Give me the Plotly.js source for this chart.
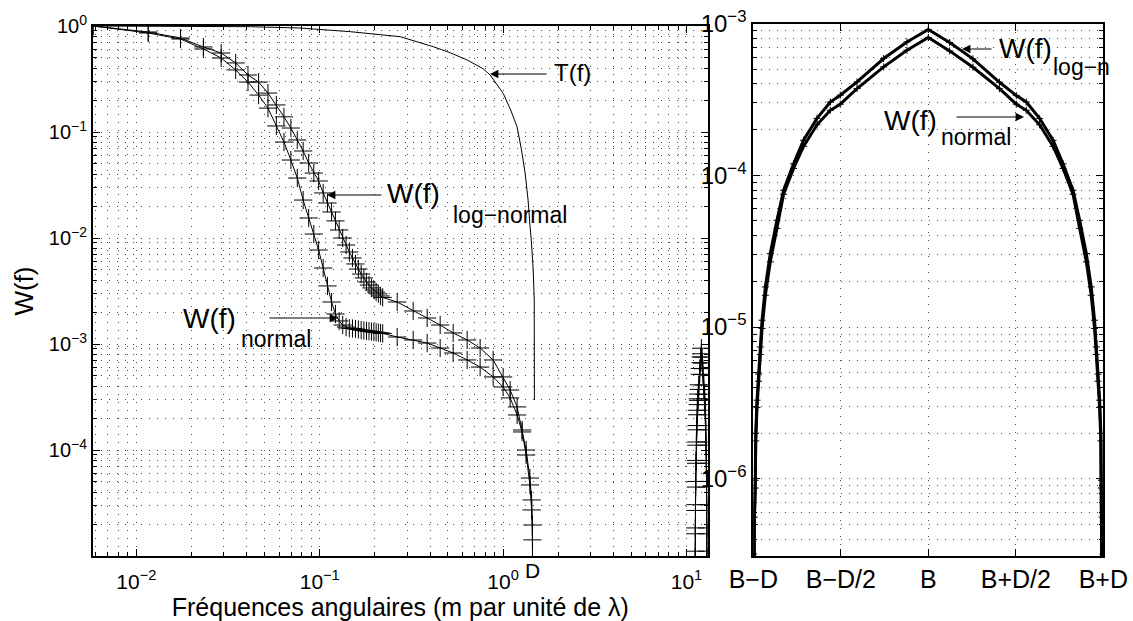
<!DOCTYPE html>
<html><head><meta charset="utf-8">
<script src="https://cdn.plot.ly/plotly-3.0.1.min.js"></script>
<style>html,body{margin:0;padding:0;background:#fff}</style>
</head><body><div id="chart" style="width:1133px;height:621px"></div>
<script>
// ---------- data ----------
const freq = [0.0058, 0.0116, 0.0174, 0.0232, 0.029, 0.0348, 0.0406, 0.0464, 0.0522, 0.058,
  0.0638, 0.0696, 0.0754, 0.0812, 0.087, 0.0928, 0.0986, 0.1044, 0.1102, 0.116,
  0.1218, 0.1276, 0.1334, 0.1392, 0.145, 0.1508, 0.1566, 0.1624, 0.1682, 0.174,
  0.1798, 0.1856, 0.1914, 0.1972, 0.203, 0.2088, 0.2146, 0.2204,
  0.2644, 0.3232, 0.3853, 0.4536, 0.534, 0.6365, 0.7493, 0.882, 1.0, 1.092,
  1.192, 1.269, 1.335, 1.40, 1.43, 1.445, 1.45];
const wLogNormal = [1.0, 0.878, 0.770, 0.634, 0.556, 0.448, 0.345, 0.296, 0.233, 0.180,
  0.139, 0.109, 0.0841, 0.0662, 0.0510, 0.0410, 0.0345, 0.0266, 0.0214, 0.0176,
  0.0145, 0.0119, 0.0100, 0.00859, 0.00738, 0.00648, 0.00569, 0.00510, 0.00457, 0.00420,
  0.00385, 0.00360, 0.00338, 0.00323, 0.00309, 0.00297, 0.00284, 0.00275,
  0.00249, 0.002049, 0.001758, 0.001511, 0.001271, 0.001091, 0.000917, 0.000707, 0.000489, 0.000368,
  0.000255, 0.0001545, 0.0001, 5.44e-5, 3.38e-5, 1.96e-5, 1e-6];
const wNormal = [1.0, 0.859, 0.754, 0.607, 0.499, 0.385, 0.296, 0.223, 0.168, 0.114,
  0.0804, 0.0544, 0.0368, 0.0228, 0.01545, 0.0109, 0.0077, 0.00521, 0.00353, 0.00249,
  0.00192, 0.00165, 0.00151, 0.001445, 0.00141, 0.00140, 0.001386, 0.00137, 0.001355, 0.00134,
  0.001327, 0.00132, 0.00131, 0.001298, 0.00129, 0.00128, 0.00127, 0.00126,
  0.001164, 0.001091, 0.001021, 0.000917, 0.000822, 0.000707, 0.000606, 0.000489, 0.000393, 0.00031,
  0.000214, 0.000148, 8.97e-5, 4.68e-5, 2.72e-5, 1.42e-5, 1e-6];
const freqT = [0.0058, 0.0418, 0.0783, 0.1467, 0.2747, 0.4154, 0.514, 0.6365, 0.778, 0.85,
  1.0, 1.1, 1.192, 1.26, 1.318, 1.368, 1.40, 1.424, 1.459, 1.478, 1.481];
const transferT = [1.0, 0.985, 0.957, 0.884, 0.793, 0.638, 0.56, 0.478, 0.395, 0.345,
  0.232, 0.161, 0.1115, 0.0677, 0.041, 0.0228, 0.01327, 0.00957, 0.00499, 0.0026, 0.000296];
const dFreq = 1.44;

// right panel: frequency offset around B, in units of D
const uOffset = [-1, -0.998, -0.994, -0.989, -0.986, -0.979, -0.970, -0.960, -0.950, -0.931,
  -0.903, -0.865, -0.827, -0.770, -0.713, -0.636, -0.560, -0.503, -0.407, -0.255, -0.122, 0,
  0.122, 0.255, 0.407, 0.503, 0.560, 0.636, 0.713, 0.770, 0.827, 0.865, 0.903, 0.931, 0.950,
  0.960, 0.970, 0.979, 0.986, 0.989, 0.994, 0.998, 1];
const wRightLogN = [1e-8, 3.2e-7, 5.6e-7, 9.8e-7, 2.0e-6, 3.3e-6, 4.9e-6, 7.4e-6, 1.11e-5, 1.84e-5,
  3.05e-5, 5.05e-5, 7.97e-5, 1.19e-4, 1.70e-4, 2.37e-4, 3.04e-4, 3.37e-4, 4.12e-4, 5.88e-4, 7.56e-4, 9.13e-4,
  7.5e-4, 5.85e-4, 4.1e-4, 3.35e-4, 3.04e-4, 2.37e-4, 1.70e-4, 1.19e-4, 7.97e-5, 5.05e-5, 3.05e-5, 1.84e-5, 1.11e-5,
  7.4e-6, 4.9e-6, 3.3e-6, 2.0e-6, 9.8e-7, 5.6e-7, 3.2e-7, 1e-8];
const wRightNormal = [1e-8, 2.9e-7, 5.0e-7, 8.7e-7, 1.78e-6, 2.95e-6, 4.4e-6, 6.6e-6, 9.8e-6, 1.62e-5,
  2.69e-5, 4.47e-5, 7.5e-5, 1.11e-4, 1.55e-4, 2.15e-4, 2.68e-4, 2.94e-4, 3.73e-4, 5.18e-4, 6.67e-4, 8.09e-4,
  6.6e-4, 5.15e-4, 3.72e-4, 2.94e-4, 2.68e-4, 2.15e-4, 1.55e-4, 1.11e-4, 7.5e-5, 4.47e-5, 2.69e-5, 1.62e-5, 9.8e-6,
  6.6e-6, 4.4e-6, 2.95e-6, 1.78e-6, 8.7e-7, 5.0e-7, 2.9e-7, 1e-8];
// the same right-panel curves also appear on the left axes around f = B
const bCentre = 12.05, dHalf = 0.95;

// ticks
const leftXTickVals = [0.01, 0.1, 1, 10];
const leftXTickText = ['10<sup>−2</sup>', '10<sup>−1</sup>', '10<sup>0</sup>', '10<sup>1</sup>'];
const leftYTickVals = [1e-4, 1e-3, 1e-2, 1e-1, 1];
const leftYTickText = ['10<sup>−4</sup>', '10<sup>−3</sup>', '10<sup>−2</sup>', '10<sup>−1</sup>', '10<sup>0</sup>'];
const rightXTickVals = [-1, -0.5, 0, 0.5, 1];
const rightXTickText = ['B−D', 'B−D/2', 'B', 'B+D/2', 'B+D'];
const rightYTickVals = [1e-6, 1e-5, 1e-4, 1e-3];
const rightYTickText = ['10<sup>−6</sup>', '10<sup>−5</sup>', '10<sup>−4</sup>', '10<sup>−3</sup>'];

// ---------- helpers ----------
function minorLog(kmin, kmax) {
  const v = [];
  for (let k = kmin; k <= kmax; k++) for (let m = 2; m <= 9; m++) v.push(m * Math.pow(10, k));
  return v;
}
const W = 1133, H = 621;
const px = x => x / W, py = y => 1 - y / H;
const FONT = 'Liberation Sans, Arial, Helvetica, sans-serif';
const GRID = {gridcolor: '#4a4a4a', gridwidth: 1, griddash: '1px,7px'};

const plusMarker = (size) => ({symbol: 'cross-thin-open', size: size, color: 'black', line: {color: 'black', width: 1}});

const artX = uOffset.map(u => bCentre + u * dHalf);

const traces = [
  {x: freqT, y: transferT, type: 'scatter', mode: 'lines', line: {color: 'black', width: 1}, xaxis: 'x', yaxis: 'y', name: 'T(f)'},
  {x: freq, y: wLogNormal, type: 'scatter', mode: 'lines+markers', line: {color: 'black', width: 1}, marker: plusMarker(13), xaxis: 'x', yaxis: 'y', name: 'W(f) log-normal'},
  {x: freq, y: wNormal, type: 'scatter', mode: 'lines+markers', line: {color: 'black', width: 1}, marker: plusMarker(13), xaxis: 'x', yaxis: 'y', name: 'W(f) normal'},
  {x: artX, y: wRightLogN, type: 'scatter', mode: 'lines+markers', line: {color: 'black', width: 1}, marker: plusMarker(13), xaxis: 'x', yaxis: 'y', name: 'W log-n (B)'},
  {x: artX, y: wRightNormal, type: 'scatter', mode: 'lines+markers', line: {color: 'black', width: 1}, marker: plusMarker(13), xaxis: 'x', yaxis: 'y', name: 'W normal (B)'},
  {x: uOffset, y: wRightLogN, type: 'scatter', mode: 'lines+markers', line: {color: 'black', width: 3}, marker: plusMarker(5), xaxis: 'x2', yaxis: 'y2', name: 'W(f) log-n'},
  {x: uOffset, y: wRightNormal, type: 'scatter', mode: 'lines+markers', line: {color: 'black', width: 3}, marker: plusMarker(5), xaxis: 'x2', yaxis: 'y2', name: 'W(f) normal'}
];

const axisCommon = {
  showline: true, linecolor: 'black', linewidth: 2, mirror: 'ticks',
  ticks: 'inside', ticklen: 7, tickwidth: 1, tickcolor: 'black',
  zeroline: false, showgrid: true, ...GRID, tickmode: 'array'
};

function txt(text, x, y, size, anchor) {
  return {text: text, xref: 'paper', yref: 'paper', x: px(x), y: py(y), showarrow: false,
    xanchor: anchor || 'left', yanchor: 'middle', font: {family: FONT, size: size, color: 'black'}};
}
function arrow(hx, hy, tx, ty) {
  return {text: '', xref: 'paper', yref: 'paper', x: px(hx), y: py(hy), ax: tx - hx, ay: ty - hy,
    showarrow: true, arrowhead: 2, arrowsize: 1.4, arrowwidth: 1.2, arrowcolor: 'black', standoff: 0, startstandoff: 0};
}

const layout = {
  width: W, height: H, margin: {l: 0, r: 0, t: 0, b: 0},
  paper_bgcolor: 'white', plot_bgcolor: 'white', showlegend: false,
  font: {family: FONT, color: 'black', size: 20},
  xaxis: {...axisCommon, domain: [px(93), px(707.7)], anchor: 'y', type: 'log',
    range: [Math.log10(0.0058), Math.log10(13.05)],
    tickvals: leftXTickVals, ticktext: leftXTickText, tickfont: {size: 21}, ticklabelstandoff: 6,
    minor: {tickmode: 'array', tickvals: minorLog(-3, 1), ticks: 'inside', ticklen: 4, tickcolor: 'black', showgrid: true, ...GRID},
    title: {text: 'Fréquences angulaires (m par unité de λ)', font: {size: 25}, standoff: 0}},
  yaxis: {...axisCommon, domain: [py(556), py(26)], anchor: 'x', type: 'log', range: [-5, 0],
    tickvals: leftYTickVals, ticktext: leftYTickText, tickfont: {size: 20},
    minor: {tickmode: 'array', tickvals: minorLog(-5, -1), ticks: 'inside', ticklen: 4, tickcolor: 'black', showgrid: true, ...GRID},
    title: {text: 'W(f)', font: {size: 26}, standoff: 8}},
  xaxis2: {...axisCommon, domain: [px(753.3), px(1103.3)], anchor: 'y2', range: [-1, 1],
    tickvals: rightXTickVals, ticktext: rightXTickText, tickfont: {size: 25}},
  yaxis2: {...axisCommon, domain: [py(556), py(23.5)], anchor: 'x2', type: 'log', range: [-6.508, -3],
    tickvals: rightYTickVals, ticktext: rightYTickText, tickfont: {size: 24},
    minor: {tickmode: 'array', tickvals: minorLog(-7, -4), ticks: 'inside', ticklen: 4, tickcolor: 'black', showgrid: true, ...GRID}},
  annotations: [
    txt('T(f)', 552, 73, 24),
    arrow(490, 74, 548, 74),
    txt('W(f)', 385, 193, 28),
    txt('log−normal', 451, 215, 23),
    arrow(327, 195, 383, 195),
    txt('W(f)', 181, 318, 28),
    txt('normal', 239, 339, 23),
    arrow(338, 318, 268, 318),
    txt('W(f)', 997, 48, 28),
    txt('log−n', 1051, 67, 23),
    arrow(962, 49, 993, 49),
    txt('W(f)', 882, 121, 28),
    txt('normal', 939, 137, 23),
    arrow(1024, 117, 955, 117),
    {text: 'D', xref: 'x', yref: 'paper', x: Math.log10(dFreq), y: py(570), showarrow: false,
     xanchor: 'center', yanchor: 'middle', font: {family: FONT, size: 21, color: 'black'}}
  ]
};

Plotly.newPlot('chart', traces, layout, {staticPlot: true, displayModeBar: false});
</script></body></html>
